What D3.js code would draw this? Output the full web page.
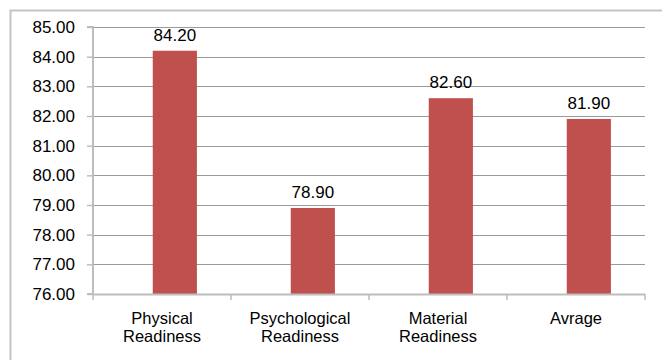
<!DOCTYPE html>
<html>
<head>
<meta charset="utf-8">
<script src="https://cdn.jsdelivr.net/npm/d3@7"></script>
<style>
  body { margin: 0; background: #fff; }
  svg { display: block; font-family: "Liberation Sans", Arial, sans-serif; }
</style>
</head>
<body>
<svg id="chart" width="662" height="360"></svg>
<script>
// Chart data
const categories = [['Physical', 'Readiness'], ['Psychological', 'Readiness'], ['Material', 'Readiness'], ['Avrage']];
const values = [84.2, 78.9, 82.6, 81.9];
const yTicks = [76, 77, 78, 79, 80, 81, 82, 83, 84, 85];

const width = 662, height = 360;
const padding = { left: 93, right: 17, top: 27, bottom: 66 };
const chartWidth = width - padding.left - padding.right;
const chartHeight = height - padding.top - padding.bottom;
const fontSize = '17px';

const svg = d3.select('#chart');

// Outer frame (only left and top edges are visible in the crop)
svg.append('rect')
  .attr('x', 10.5).attr('y', 10.5)
  .attr('width', 700).attr('height', 400)
  .attr('fill', 'none')
  .attr('stroke', '#c4c4c4')
  .attr('stroke-width', 2);

const g = svg.append('g')
  .attr('transform', `translate(${padding.left}, ${padding.top})`);

const keys = categories.map((c, i) => 'c' + i);

const xScale = d3.scaleBand()
  .domain(keys)
  .range([0, chartWidth])
  .padding(0);

const yScale = d3.scaleLinear()
  .domain([76, 85])
  .range([chartHeight, 0]);

// Grid lines
g.append('g').attr('class', 'grid')
  .selectAll('line')
  .data(yTicks.filter(d => d > 76))
  .join('line')
  .attr('x1', 0)
  .attr('x2', chartWidth)
  .attr('y1', d => Math.round(yScale(d)) + 0.5)
  .attr('y2', d => Math.round(yScale(d)) + 0.5)
  .attr('stroke', '#9a9a9a')
  .attr('stroke-width', 1);

// Bars (Excel style: drawn slightly right of band center)
const barWidth = xScale.bandwidth() * 0.32;
const barOffset = xScale.bandwidth() * 0.093;
g.append('g').attr('class', 'bars')
  .selectAll('rect')
  .data(values)
  .join('rect')
  .attr('x', (d, i) => xScale(keys[i]) + xScale.bandwidth() / 2 - barWidth / 2 + barOffset)
  .attr('y', d => yScale(d))
  .attr('width', barWidth)
  .attr('height', d => chartHeight - yScale(d))
  .attr('fill', '#c0504d');

// Value labels
g.append('g').attr('class', 'labels')
  .selectAll('text')
  .data(values)
  .join('text')
  .attr('x', (d, i) => xScale(keys[i]) + xScale.bandwidth() / 2 + barOffset)
  .attr('y', d => yScale(d) - 10)
  .attr('text-anchor', 'middle')
  .attr('font-size', fontSize)
  .attr('fill', '#000')
  .text(d => d.toFixed(2));

// Y axis
const yAxis = d3.axisLeft(yScale)
  .tickValues(yTicks)
  .tickSize(6)
  .tickPadding(12)
  .tickFormat(d => d.toFixed(2));

const yAxisGroup = g.append('g').attr('class', 'axis axis-y').call(yAxis);
yAxisGroup.select('.domain').attr('stroke', '#bdbdbd').attr('stroke-width', 2).attr('d', `M-6,${chartHeight}H0V0H-6`);
yAxisGroup.selectAll('.tick line').attr('stroke', '#bdbdbd').attr('stroke-width', 1.5);
yAxisGroup.selectAll('text')
  .attr('font-size', fontSize)
  .attr('fill', '#000')
  .attr('font-family', '"Liberation Sans", Arial, sans-serif');

// X axis: ticks on category boundaries
const xAxisGroup = g.append('g')
  .attr('class', 'axis axis-x')
  .attr('transform', `translate(0, ${chartHeight})`);

xAxisGroup.append('line')
  .attr('x1', 0).attr('x2', chartWidth)
  .attr('y1', 0.5).attr('y2', 0.5)
  .attr('stroke', '#bdbdbd')
  .attr('stroke-width', 2);

const boundaries = keys.map(k => xScale(k)).concat([chartWidth]);
xAxisGroup.selectAll('line.tick')
  .data(boundaries)
  .join('line')
  .attr('class', 'tick')
  .attr('x1', d => d).attr('x2', d => d)
  .attr('y1', 0).attr('y2', 6)
  .attr('stroke', '#bdbdbd')
  .attr('stroke-width', 1.5);

// Category labels, one text per line so the lines stay apart
const catGroups = xAxisGroup.selectAll('g.cat')
  .data(categories)
  .join('g')
  .attr('class', 'cat')
  .attr('transform', (d, i) => `translate(${xScale(keys[i]) + xScale.bandwidth() / 2}, 30)`);

catGroups.selectAll('text')
  .data(d => d)
  .join('text')
  .attr('x', 0)
  .attr('y', (d, i) => i * 18)
  .attr('text-anchor', 'middle')
  .attr('font-size', '16.5px')
  .attr('fill', '#000')
  .text(d => d);
</script>
</body>
</html>
